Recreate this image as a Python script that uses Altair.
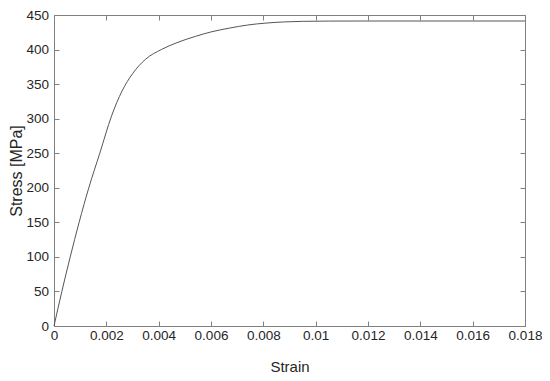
import altair as alt
import pandas as pd

strain = [0, 0.0003, 0.00062, 0.00096, 0.00133, 0.00175, 0.0022, 0.0026, 0.003,
          0.0035, 0.0041, 0.0047, 0.0054, 0.006, 0.0067, 0.0074, 0.0081, 0.0088,
          0.0095, 0.0105, 0.012, 0.018]
stress = [0, 50, 100, 150, 200, 250, 304, 340, 365, 386, 400, 410, 419, 425.5,
          431, 435.5, 438.3, 440, 440.8, 441.2, 441.3, 441.3]
x_ticks = [0, 0.002, 0.004, 0.006, 0.008, 0.01, 0.012, 0.014, 0.016, 0.018]
y_ticks = [0, 50, 100, 150, 200, 250, 300, 350, 400, 450]

df = pd.DataFrame({"strain": strain, "stress": stress})

FONT = "Liberation Sans"
TXT = "#262626"
AX = "#808080"

xs = alt.Scale(domain=[0, 0.018], nice=False, zero=False)
ys = alt.Scale(domain=[0, 450], nice=False)

base_ax = dict(grid=False, domain=False, tickSize=5, offset=-5, tickColor=AX, tickWidth=1)
text_ax = dict(labelFont=FONT, labelFontSize=13.5, labelColor=TXT,
               titleFont=FONT, titleColor=TXT, titleFontWeight="normal",
               labelFlush=False, labelOverlap=False)

main = alt.Chart(df).mark_line(color="#555555", strokeWidth=1, interpolate="monotone").encode(
    x=alt.X("strain:Q", scale=xs,
            axis=alt.Axis(values=x_ticks, format=".3~f", title="Strain", orient="bottom",
                          labelPadding=2, titlePadding=18, titleFontSize=15,
                          **base_ax, **text_ax)),
    y=alt.Y("stress:Q", scale=ys,
            axis=alt.Axis(values=y_ticks, title="Stress [MPa]", orient="left",
                          labelPadding=5.5, titlePadding=1, titleFontSize=16,
                          **base_ax, **text_ax)),
)

frame = alt.Chart(df).mark_line(opacity=0).encode(
    x=alt.X("strain:Q", scale=xs,
            axis=alt.Axis(values=x_ticks, labels=False, title=None, orient="top", **base_ax)),
    y=alt.Y("stress:Q", scale=ys,
            axis=alt.Axis(values=y_ticks, labels=False, title=None, orient="right", **base_ax)),
)

chart = alt.layer(main, frame).resolve_axis(x="independent", y="independent").properties(
    width=471, height=311,
    autosize=alt.AutoSizeParams(type="none"),
    padding={"left": 46, "top": 7, "right": 17, "bottom": 50},
    background="white",
).configure_view(stroke=AX, strokeWidth=1)

chart.save("out.html", embed_options={"renderer": "svg", "actions": False})
